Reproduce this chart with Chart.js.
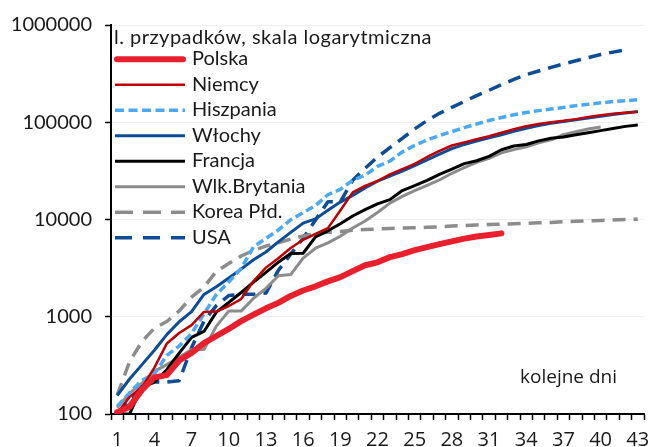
<!DOCTYPE html>
<html>
<head>
<meta charset="utf-8">
<script src="https://cdn.jsdelivr.net/npm/chart.js@4"></script>
<style>
  html, body { margin: 0; padding: 0; background: #fff; }
  #wrap { width: 650px; height: 447px; }
</style>
</head>
<body>
<div id="wrap"><canvas id="lineChart" width="650" height="447"></canvas></div>
<script>
const dni = ['1','2','3','4','5','6','7','8','9','10','11','12','13','14','15','16','17','18','19','20','21','22',
  '23','24','25','26','27','28','29','30','31','32','33','34','35','36','37','38','39','40','41','42','43'];
const yTicks = [100, 1000, 10000, 100000, 1000000];

const polska = [104, 119, 177, 238, 251, 355, 425, 536, 634, 749, 901, 1051, 1221, 1389, 1638, 1862, 2055,
  2311, 2554, 2946, 3383, 3627, 4102, 4413, 4848, 5205, 5575, 5955, 6356, 6674, 6934, 7202];
const niemcy = [102, 150, 188, 300, 530, 680, 820, 1120, 1130, 1290, 1520, 2330, 3200, 4000, 5100, 6180, 7100,
  8150, 12400, 19000, 22213, 24873, 29056, 32986, 37323, 43938, 50871, 57695, 62095, 66885, 71808, 77872,
  84794, 91159, 96092, 100123, 103374, 107663, 113296, 118181, 122171, 124908, 127854];
const hiszpania = [120, 165, 222, 259, 400, 500, 673, 1073, 1695, 2277, 3146, 5232, 6391, 7798, 9942, 11748,
  13910, 17963, 20410, 25374, 28603, 35136, 39885, 49515, 57786, 65719, 73235, 80110, 87956, 95923, 104118,
  112065, 119199, 126168, 131646, 136675, 141942, 148220, 153222, 158273, 163027, 166831, 170099];
const wlochy = [155, 229, 322, 453, 655, 888, 1128, 1694, 2036, 2502, 3089, 3858, 4636, 5883, 7375, 9172,
  10149, 12462, 15113, 17660, 21157, 24747, 27980, 31506, 35713, 41035, 47021, 53578, 59138, 63927, 69176,
  74386, 80589, 86498, 92472, 97689, 101739, 105792, 110574, 115242, 119827, 124632, 128948];
const francja = [100, 100, 191, 212, 285, 423, 613, 706, 1116, 1402, 1774, 2269, 2860, 3640, 4469, 4499, 6633,
  7652, 9043, 10871, 12612, 14459, 16018, 19856, 22302, 25233, 29155, 32964, 37575, 40174, 44550, 52128,
  56989, 59105, 64338, 68605, 70478, 74390, 78167, 82048, 86334, 90676, 93790];
const wlkBrytania = [116, 164, 207, 274, 322, 384, 459, 460, 801, 1143, 1143, 1551, 1960, 2642, 2716, 4014,
  5067, 5745, 6726, 8164, 9640, 11812, 14745, 17312, 19780, 22453, 25481, 29865, 34173, 38689, 42477, 48436,
  52279, 55949, 61474, 65872, 74605, 79874, 85206, 89570];
const korea = [156, 346, 556, 763, 893, 1146, 1595, 2022, 2931, 3526, 4212, 4812, 5328, 5766, 6284, 6767, 7134,
  7382, 7513, 7755, 7869, 7979, 8086, 8162, 8236, 8320, 8413, 8565, 8652, 8799, 8897, 8961, 9037, 9137, 9241,
  9332, 9478, 9583, 9661, 9786, 9887, 9976, 10062];
const usa = [105, 130, 200, 213, 213, 220, 480, 900, 1300, 1650, 1700, 1700, 1750, 3000, 4400, 6400, 9900,
  15200, 15200, 25300, 33592, 43781, 54856, 68211, 85435, 104126, 123578, 142460, 163479, 188172, 213242,
  243622, 275367, 308650, 336802, 366317, 397121, 428654, 462780, 496535, 526396, 555313];

const tytul = 'l. przypadków, skala logarytmiczna';
const osX = 'kolejne dni';

const fontMain = 'Lato, "Open Sans", sans-serif';
const fontX = '"Liberation Sans Narrow", "Open Sans", sans-serif';

// legend drawn by hand, top-left inside the plot
const legendaPlugin = {
  id: 'legenda',
  afterDraw(chart) {
    const ctx = chart.ctx;
    ctx.save();
    ctx.fillStyle = '#1a1a1a';
    ctx.font = '20px ' + fontMain;
    ctx.textBaseline = 'alphabetic';
    ctx.letterSpacing = '0.5px';
    ctx.fillText(tytul, 114, 43.5);
    ctx.letterSpacing = '0px';
    chart.data.datasets.forEach((ds, i) => {
      const y = 59.3 + i * 25.5;
      ctx.beginPath();
      ctx.strokeStyle = ds.borderColor;
      ctx.lineWidth = ds.borderWidth;
      ctx.lineCap = ds.borderCapStyle || 'butt';
      ctx.setLineDash(ds.legendDash || []);
      const x0 = ds.borderCapStyle === 'round' ? 117 : 115;
      const x1 = ds.borderCapStyle === 'round' ? 183 : 185;
      ctx.moveTo(x0, y);
      ctx.lineTo(x1, y);
      ctx.stroke();
      ctx.setLineDash([]);
      ctx.fillStyle = '#1a1a1a';
      ctx.fillText(ds.label, 192, y + 6);
    });
    ctx.font = '19px "Open Sans", sans-serif';
    ctx.fillText(osX, 520, 382.5);
    ctx.restore();
  }
};

const ctx = document.getElementById('lineChart').getContext('2d');
const myChart = new Chart(ctx, {
  type: 'line',
  data: {
    labels: dni,
    datasets: [
      { label: 'Polska', data: polska, borderColor: '#e8202e', borderWidth: 6, borderCapStyle: 'round' },
      { label: 'Niemcy', data: niemcy, borderColor: '#c00000', borderWidth: 2.5 },
      { label: 'Hiszpania', data: hiszpania, borderColor: '#4ba9f4', borderWidth: 3.5, borderDash: [8, 4], legendDash: [9, 4.5] },
      { label: 'Włochy', data: wlochy, borderColor: '#0e4c96', borderWidth: 3 },
      { label: 'Francja', data: francja, borderColor: '#000000', borderWidth: 3 },
      { label: 'Wlk.Brytania', data: wlkBrytania, borderColor: '#8c8c8c', borderWidth: 3 },
      { label: 'Korea Płd.', data: korea, borderColor: '#8c8c8c', borderWidth: 3.5, borderDash: [13, 8], legendDash: [18, 10] },
      { label: 'USA', data: usa, borderColor: '#0e4c96', borderWidth: 3.5, borderDash: [13, 8], legendDash: [17, 11] }
    ]
  },
  options: {
    responsive: false,
    animation: false,
    layout: { padding: { top: 25, right: 6, left: 0, bottom: 0 } },
    elements: {
      point: { radius: 0 },
      line: { tension: 0, borderJoinStyle: 'round', fill: false }
    },
    plugins: {
      legend: { display: false },
      tooltip: { enabled: false }
    },
    scales: {
      x: {
        type: 'category',
        offset: true,
        grid: { offset: true, drawOnChartArea: false, drawTicks: true, tickLength: 6, tickColor: '#000', tickWidth: 1.5 },
        border: { color: '#000', width: 2 },
        ticks: {
          autoSkip: false, maxRotation: 0, padding: 8, color: '#1a1a1a',
          font: { family: fontX, size: 20 },
          callback: function (v, i) { return i % 3 === 0 ? this.getLabelForValue(v) : ''; }
        },
        afterFit: s => { s.height = 33; s.paddingLeft = 0; s.paddingRight = 0; }
      },
      y: {
        type: 'logarithmic',
        min: 100,
        max: 1000000,
        afterBuildTicks: s => { s.ticks = yTicks.map(v => ({ value: v })); },
        grid: { color: '#efefef', lineWidth: 1, tickColor: '#000', tickLength: 6, tickWidth: 1.5 },
        border: { color: '#000', width: 2 },
        ticks: {
          padding: 13, color: '#1a1a1a',
          font: { family: fontMain, size: 20 },
          callback: v => String(v)
        },
        afterFit: s => { s.width = 111; }
      }
    }
  },
  plugins: [legendaPlugin]
});
</script>
</body>
</html>
